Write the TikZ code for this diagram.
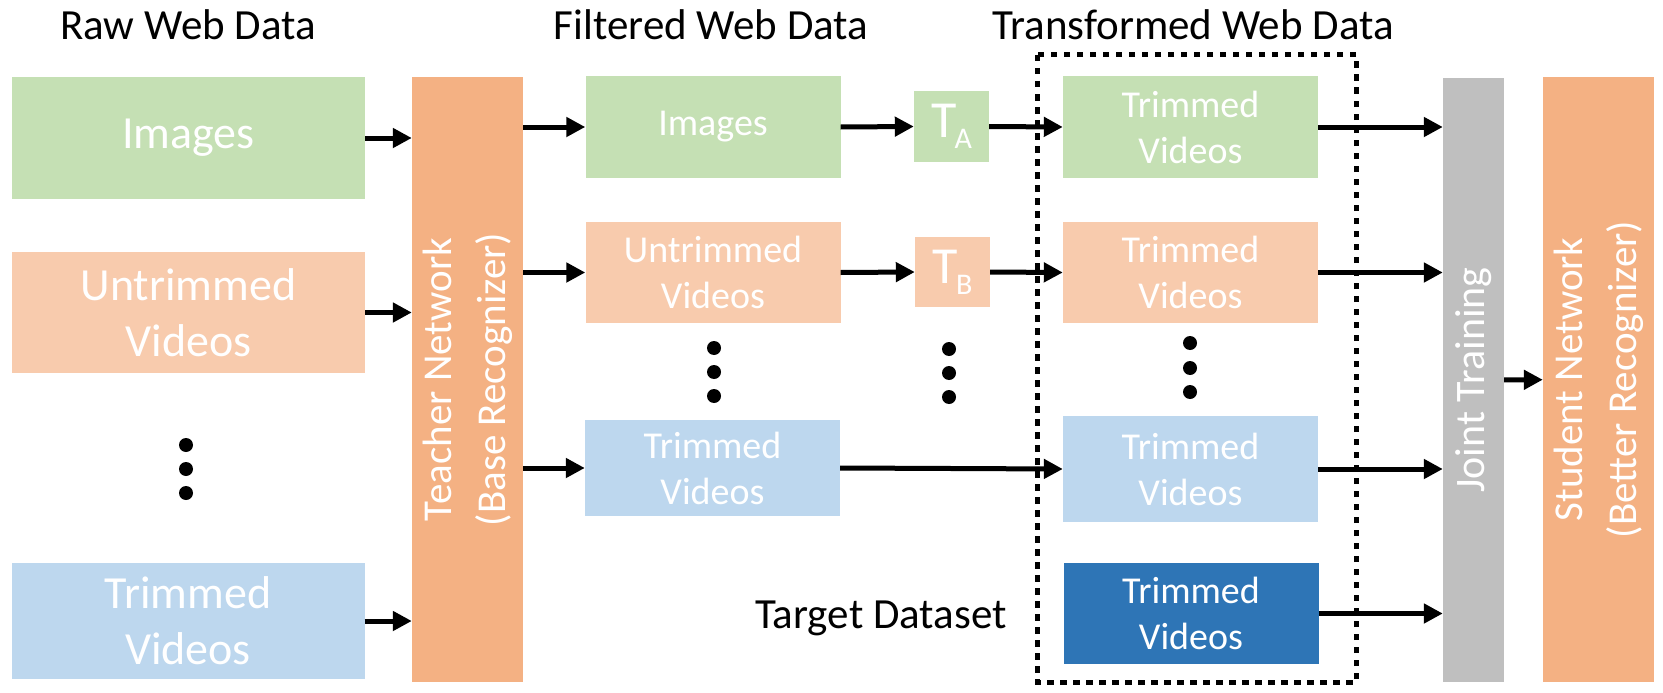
\documentclass[tikz,border=0pt]{standalone}
\usepackage{fontspec}
\setmainfont{Carlito}
\usetikzlibrary{arrows.meta}

\definecolor{imggreen}{HTML}{C5E0B4}
\definecolor{untsalmon}{HTML}{F8CBAD}
\definecolor{trimblue}{HTML}{BDD7EE}
\definecolor{targetblue}{HTML}{2E75B6}
\definecolor{netorange}{HTML}{F4B183}
\definecolor{jointgray}{HTML}{BFBFBF}

\tikzset{
  databox/.style={rectangle, fill=#1, text=white, inner sep=0pt, align=center},
  rawbox/.style={databox=#1, minimum width=353pt, font=\fontsize{46}{56}\selectfont},
  smallbox/.style={databox=#1, minimum width=255pt, font=\fontsize{38}{46}\selectfont},
  tbox/.style={databox=#1, minimum width=75pt, minimum height=71pt, font=\fontsize{52}{52}\selectfont},
  netbox/.style={databox=#1, minimum width=111pt, minimum height=605pt},
  vlabel/.style={rotate=90, text=white, align=center, inner sep=0pt, font=\fontsize{41}{54}\selectfont},
  title/.style={anchor=base, inner sep=0pt, font=\fontsize{43}{50}\selectfont},
  arr/.style={-{Triangle[length=19pt,width=19pt]}, line width=5pt},
  dotbox/.style={line width=5pt, dash pattern=on 6.5pt off 6.5pt}
}

\begin{document}
\begin{tikzpicture}[x=1pt,y=-1pt]
  \useasboundingbox (0,0) rectangle (1663,693);

  %Titles
  \node[title] (rawttl) at (188,40) {Raw Web Data};
  \node[title] (filttl) at (711,40) {Filtered Web Data};
  \node[title] (trfttl) at (1193,40) {Transformed Web Data};
  \node[title] (tgtttl) at (881,628) {Target Dataset};

  %Raw web data
  \node[rawbox=imggreen, minimum height=122pt] (rimg) at (188.5,138) {Images};
  \node[rawbox=untsalmon, minimum height=121pt] (runt) at (188.5,312.5) {Untrimmed\\Videos};
  \node[rawbox=trimblue, minimum height=116pt] (rtrim) at (188,621) {Trimmed\\Videos};
  \foreach \y in {445, 469, 493}
    \fill (186,\y) circle (7);

  %Teacher
  \node[netbox=netorange] (teacher) at (467.5,379.5) {};
  \node[vlabel] (teachtxt) at (teacher) {Teacher Network\\(Base Recognizer)};

  %Filtered web data
  \node[smallbox=imggreen, minimum height=102pt] (fimg) at (713,127) {Images};
  \node[smallbox=untsalmon, minimum height=101pt] (funt) at (713,272.5) {Untrimmed\\Videos};
  \node[smallbox=trimblue, minimum height=96pt] (ftrim) at (712.5,468) {Trimmed\\Videos};
  \foreach \y in {348, 372, 396}
    \fill (714,\y) circle (7);

  %Transforms
  \node[tbox=imggreen] (ta) at (951.5,126.5) {T\kern-2pt\raisebox{-11pt}{\fontsize{30}{30}\selectfont A}};
  \node[tbox=untsalmon, minimum height=70pt] (tb) at (952.5,272) {T\kern-2pt\raisebox{-11pt}{\fontsize{30}{30}\selectfont B}};
  \foreach \y in {349, 373, 397}
    \fill (949,\y) circle (7);

  %Transformed web data
  \draw[dotbox] (1037,55) rectangle (1356,682);
  \node[smallbox=imggreen, minimum height=102pt] (timg) at (1190.5,127) {Trimmed\\Videos};
  \node[smallbox=untsalmon, minimum height=101pt] (tunt) at (1190.5,272.5) {Trimmed\\Videos};
  \node[smallbox=trimblue, minimum height=106pt] (ttrim) at (1190.5,469) {Trimmed\\Videos};
  \node[smallbox=targetblue, minimum height=101pt] (target) at (1191,613.5) {Trimmed\\Videos};
  \foreach \y in {343, 368, 392}
    \fill (1190,\y) circle (7);

  %Joint training and student
  \node[databox=jointgray, minimum width=61pt, minimum height=604pt] (joint) at (1473.5,380) {};
  \node[vlabel, font=\fontsize{42}{50}\selectfont] (jointtxt) at (joint) {Joint Training};
  \node[netbox=netorange] (student) at (1598.5,379.5) {};
  \node[vlabel] (studtxt) at (student) {Student Network\\(Better Recognizer)};

  %Arrows
  \foreach \n in {rimg, runt, rtrim}
    \draw[arr] (\n.east) -- (\n.east -| teacher.west);
  \foreach \n in {fimg, funt, ftrim}
    \draw[arr] (teacher.east |- \n.west) -- (\n.west);
  \draw[arr] (fimg.east) -- (ta.west);
  \draw[arr] (funt.east) -- (tb.west);
  \draw[arr] (ta.east) -- (timg.west);
  \draw[arr] (tb.east) -- (tunt.west);
  \draw[arr] (ftrim.east) -- (ttrim.west);
  \foreach \n in {timg, tunt, ttrim, target}
    \draw[arr] (\n.east) -- (\n.east -| joint.west);
  \draw[arr] (joint) -- (student);
\end{tikzpicture}
\end{document}
